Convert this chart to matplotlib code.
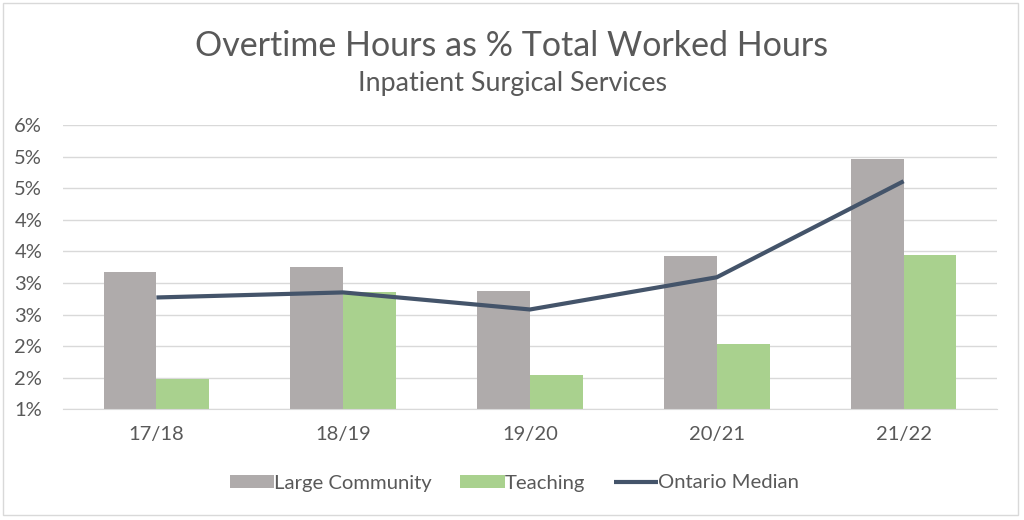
import matplotlib.pyplot as plt
import numpy as np
from matplotlib.ticker import FuncFormatter, MultipleLocator
from matplotlib.patches import Rectangle

years = ["17/18", "18/19", "19/20", "20/21", "21/22"]
large_community = [3.18, 3.26, 2.88, 3.43, 4.96]
teaching = [1.48, 2.85, 1.55, 2.04, 3.45]
ontario_median = [2.77, 2.85, 2.58, 3.09, 4.61]

GREY = "#AFABAB"
GREEN = "#A9D18E"
NAVY = "#44546A"
TXT = "#595959"

plt.rcParams["font.family"] = ["Lato", "DejaVu Sans"]

fig = plt.figure(figsize=(10.24, 5.2), dpi=100)
ax = fig.add_axes([63 / 1024, (520 - 409.3) / 520, (997 - 63) / 1024, (409.3 - 125) / 520])

x = np.arange(len(years))
w = 0.283
b1 = ax.bar(x - w / 2, large_community, w, color=GREY, label="Large Community", zorder=2)
b2 = ax.bar(x + w / 2, teaching, w, color=GREEN, label="Teaching", zorder=2)
l1, = ax.plot(x, ontario_median, color=NAVY, lw=3, label="Ontario Median", zorder=3,
              solid_capstyle="butt")

ax.set_xlim(-0.5, len(years) - 0.5)
ax.set_ylim(1.0, 5.5)
ax.yaxis.set_major_locator(MultipleLocator(0.5))
ax.yaxis.set_major_formatter(FuncFormatter(lambda v, p: f"{int(np.floor(v + 0.5 + 1e-9))}%"))
ax.grid(axis="y", color="#D9D9D9", lw=1, zorder=0)
for s in ["top", "right", "left"]:
    ax.spines[s].set_visible(False)
ax.spines["bottom"].set_color("#D9D9D9")
ax.set_xticks(x)
ax.set_xticklabels(years)
ax.tick_params(axis="both", length=0, colors=TXT, labelsize=14.5)
ax.tick_params(axis="x", pad=12)
ax.tick_params(axis="y", pad=15)

fig.text(0.5, 1 - 46 / 520, "Overtime Hours as % Total Worked Hours", ha="center", va="center",
         fontsize=24.5, color=TXT)
fig.text(0.5, 1 - 84 / 520, "Inpatient Surgical Services", ha="center", va="center",
         fontsize=19.3, color=TXT)

fig.legend([b1, b2, l1], ["Large Community", "Teaching", "Ontario Median"],
           loc="center", bbox_to_anchor=(514.5 / 1024, 1 - 483 / 520), ncol=3, frameon=False,
           fontsize=14.6, labelcolor=TXT, handlelength=2.2, handleheight=0.65,
           handletextpad=0.0, columnspacing=1.4)

fig.patches.append(Rectangle((3 / 1024, 5 / 520), 1015 / 1024, 512 / 520, transform=fig.transFigure,
                             fill=False, edgecolor="#D9D9D9", lw=1))

fig.savefig("out.png", dpi=100)
